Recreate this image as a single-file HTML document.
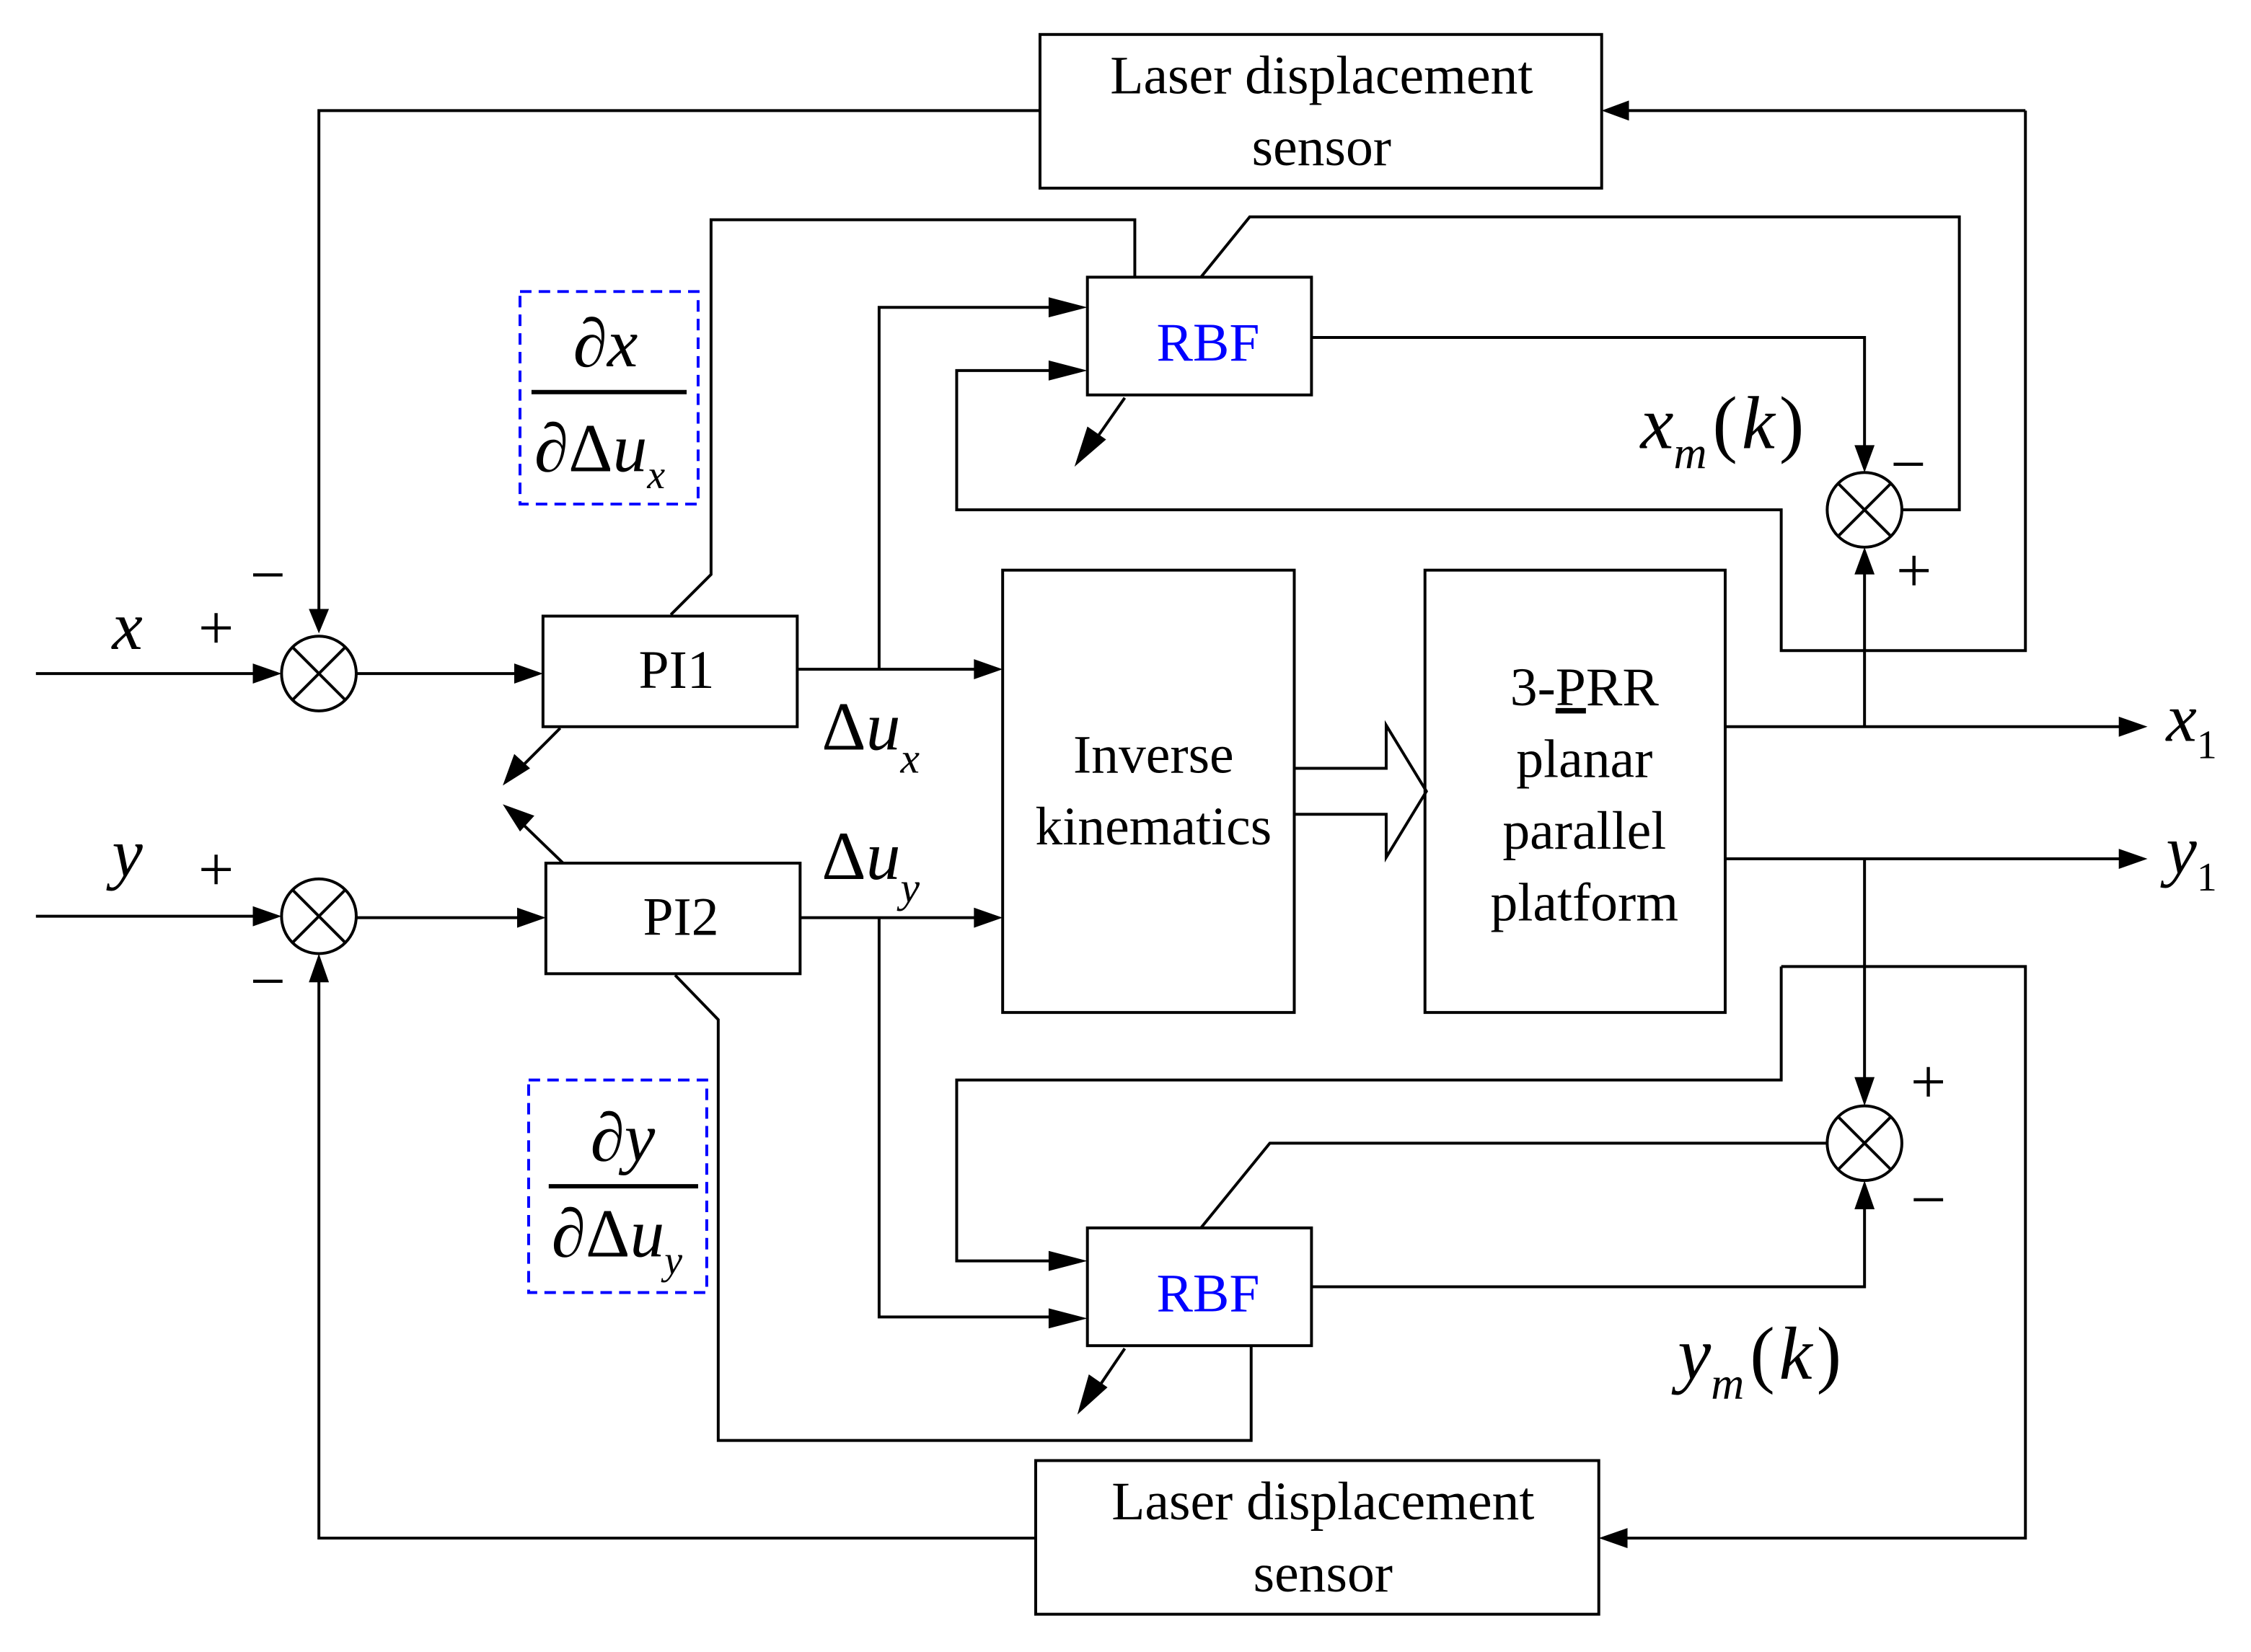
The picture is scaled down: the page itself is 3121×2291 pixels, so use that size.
<!DOCTYPE html>
<html><head><meta charset="utf-8">
<style>
html,body{margin:0;padding:0;background:#fff;}
svg{display:block;}
text{font-family:"Liberation Serif",serif;fill:#000;}
.it{font-style:italic;}
</style></head>
<body>
<svg width="3121" height="2291" viewBox="0 0 1567 1150.3" preserveAspectRatio="xMinYMin meet" xmlns="http://www.w3.org/2000/svg">
<g fill="none" stroke="#000" stroke-width="2">
<rect x="724" y="24" width="391" height="107"/>
<rect x="721" y="1017" width="392" height="107"/>
<rect x="757" y="193" width="156" height="82"/>
<rect x="757" y="855" width="156" height="82"/>
<rect x="378" y="429" width="177" height="77"/>
<rect x="380" y="601" width="177" height="77"/>
<rect x="698" y="397" width="203" height="308"/>
<rect x="992" y="397" width="209" height="308"/>
<circle cx="222" cy="469" r="26"/>
<circle cx="222" cy="638" r="26"/>
<circle cx="1298" cy="355" r="26"/>
<circle cx="1298" cy="796" r="26"/>
<path d="M203.6 450.6L240.4 487.4M240.4 450.6L203.6 487.4"/>
<path d="M203.6 619.6L240.4 656.4M240.4 619.6L203.6 656.4"/>
<path d="M1279.6 336.6L1316.4 373.4M1316.4 336.6L1279.6 373.4"/>
<path d="M1279.6 777.6L1316.4 814.4M1316.4 777.6L1279.6 814.4"/>
<path d="M724 77H222V428"/>
<path d="M1410 77H1128"/>
<path d="M1410 77V453H1240V355H666V258H742"/>
<path d="M467 428L495 400V153H790V193"/>
<path d="M913 235H1298V314"/>
<path d="M1324 355H1364V151H870L836 193"/>
<path d="M783 277L760 310"/>
<path d="M1298 506V396"/>
<path d="M555 466H684"/>
<path d="M612 466V214H742"/>
<path d="M25 469H182"/>
<path d="M248 469H364"/>
<path d="M390 507L362 535"/>
<path d="M392 601L362 572"/>
<path d="M25 638H182"/>
<path d="M248 639H366"/>
<path d="M721 1071H222V678"/>
<path d="M901 535H965V505L993 551L965 597V567H901"/>
<path d="M1201 506H1480"/>
<path d="M1201 598H1480"/>
<path d="M557 639H684"/>
<path d="M612 639V917H742"/>
<path d="M1298 598V756"/>
<path d="M1240 673H1410V1071H1128"/>
<path d="M1240 673V752H666V878H742"/>
<path d="M1272 796H884L836 855"/>
<path d="M913 896H1298V836"/>
<path d="M470 679L500 710V1003H871V937"/>
<path d="M783 939L762 970"/>
</g>
<g fill="#000">
<polygon points="222,441 215,424 229,424"/>
<polygon points="1115,77 1134,70 1134,84"/>
<polygon points="757,258 730,251 730,265"/>
<polygon points="757,214 730,207 730,221"/>
<polygon points="1298,329 1291,310 1305,310"/>
<polygon points="748,325 757,297 770,306"/>
<polygon points="1298,381 1291,400 1305,400"/>
<polygon points="698,466 678,459 678,473"/>
<polygon points="196,469 176,462 176,476"/>
<polygon points="378,469 358,462 358,476"/>
<polygon points="350,547 358,525 369,535"/>
<polygon points="350,560 372,568 362,579"/>
<polygon points="196,638 176,631 176,645"/>
<polygon points="380,639 360,632 360,646"/>
<polygon points="222,664 215,684 229,684"/>
<polygon points="1495,506 1475,499 1475,513"/>
<polygon points="1495,598 1475,591 1475,605"/>
<polygon points="698,639 678,632 678,646"/>
<polygon points="757,918 730,911 730,925"/>
<polygon points="1298,770 1291,750 1305,750"/>
<polygon points="1113,1071 1133,1064 1133,1078"/>
<polygon points="757,878 730,871 730,885"/>
<polygon points="1298,822 1291,842 1305,842"/>
<polygon points="750,985 758,957 771,966"/>
</g>
<g fill="none" stroke="#0000ff" stroke-width="2" stroke-dasharray="8,5">
<rect x="362" y="203" width="124" height="148"/>
<rect x="368" y="752" width="124" height="148"/>
</g>
<line x1="370" y1="273" x2="478" y2="273" stroke="#000" stroke-width="3"/>
<line x1="382" y1="826" x2="486" y2="826" stroke="#000" stroke-width="3"/>
<g font-size="38" text-anchor="middle">
<text x="920" y="65">Laser displacement</text>
<text x="920" y="115">sensor</text>
<text x="921" y="1058">Laser displacement</text>
<text x="921" y="1108">sensor</text>
<text x="471" y="479">PI1</text>
<text x="474" y="651">PI2</text>
<text x="803" y="538">Inverse</text>
<text x="803" y="588">kinematics</text>
<text x="1103" y="491">3-<tspan text-decoration="underline">P</tspan>RR</text>
<text x="1103" y="541">planar</text>
<text x="1103" y="591">parallel</text>
<text x="1103" y="641">platform</text>
<text x="841" y="251" style="fill:#0000ff">RBF</text>
<text x="841" y="913" style="fill:#0000ff">RBF</text>
</g>
<g font-size="48">
<text x="78" y="452" class="it">x</text>
<text x="78" y="610" class="it">y</text>
<text x="138" y="452" font-size="44">+</text>
<text x="138" y="620" font-size="44">+</text>
<text x="174" y="415" font-size="44">−</text>
<text x="174" y="698" font-size="44">−</text>
<text x="1316" y="338" font-size="44">−</text>
<text x="1320" y="412" font-size="44">+</text>
<text x="1330" y="768" font-size="44">+</text>
<text x="1330" y="850" font-size="44">−</text>
<text x="572" y="522">Δ<tspan class="it">u</tspan><tspan class="it" font-size="30" dy="16">x</tspan></text>
<text x="572" y="612">Δ<tspan class="it">u</tspan><tspan class="it" font-size="30" dy="16">y</tspan></text>
<text x="1508" y="516" class="it">x<tspan font-size="28" dy="12" font-style="normal">1</tspan></text>
<text x="1508" y="608" class="it">y<tspan font-size="28" dy="12" font-style="normal">1</tspan></text>
<text x="1142" y="312" font-size="52"><tspan class="it">x</tspan><tspan class="it" font-size="32" dy="14">m</tspan><tspan dy="-14" dx="4">(</tspan><tspan class="it" dx="3">k</tspan><tspan dx="3">)</tspan></text>
<text x="1168" y="960" font-size="52"><tspan class="it">y</tspan><tspan class="it" font-size="32" dy="14">m</tspan><tspan dy="-14" dx="4">(</tspan><tspan class="it" dx="3">k</tspan><tspan dx="3">)</tspan></text>
<text x="399" y="255">∂<tspan class="it">x</tspan></text>
<text x="372" y="328">∂Δ<tspan class="it">u</tspan><tspan class="it" font-size="28" dy="12">x</tspan></text>
<text x="411" y="808">∂<tspan class="it">y</tspan></text>
<text x="384" y="875">∂Δ<tspan class="it">u</tspan><tspan class="it" font-size="28" dy="12">y</tspan></text>
</g>
</svg>
</body></html>
